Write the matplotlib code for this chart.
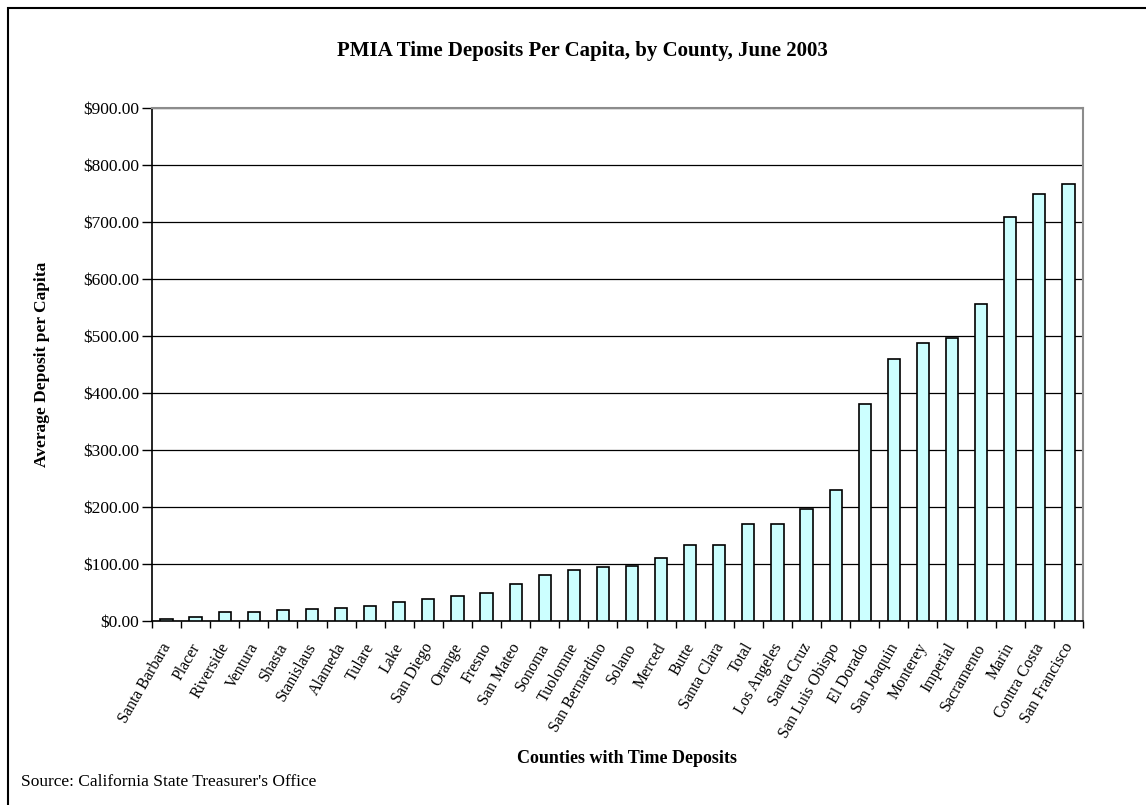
import numpy as np
import matplotlib
matplotlib.use("Agg")
import matplotlib.pyplot as plt
import matplotlib.transforms as mtransforms
from matplotlib.ticker import FuncFormatter, MultipleLocator, FixedLocator
from matplotlib.patches import Rectangle

counties = ["Santa Barbara", "Placer", "Riverside", "Ventura", "Shasta", "Stanislaus",
            "Alameda", "Tulare", "Lake", "San Diego", "Orange", "Fresno", "San Mateo",
            "Sonoma", "Tuolomne", "San Bernardino", "Solano", "Merced", "Butte",
            "Santa Clara", "Total", "Los Angeles", "Santa Cruz", "San Luis Obispo",
            "El Dorado", "San Joaquin", "Monterey", "Imperial", "Sacramento", "Marin",
            "Contra Costa", "San Francisco"]
deposits = [3, 7, 15, 16, 19, 21.5, 23.5, 27, 33, 39, 44, 48.5, 65,
            81, 89, 94, 97, 111, 133, 133, 170, 170, 197, 230,
            381, 459, 487, 497, 557, 708, 750, 767]

plt.rcParams["font.family"] = ["Liberation Serif", "DejaVu Serif"]

fig = plt.figure(figsize=(11.46, 8.05), dpi=100)
ax = fig.add_axes([0.1326, 0.2286, 0.8124, 0.6372])

x = np.arange(len(counties))
ax.bar(x, deposits, width=0.42, color="#ccffff", edgecolor="black", linewidth=1.2, zorder=3)

ax.set_xlim(-0.5, len(counties) - 0.5)
ax.set_ylim(0, 900)
ax.yaxis.set_major_locator(MultipleLocator(100))
ax.yaxis.set_major_formatter(FuncFormatter(lambda v, _: f"${v:,.2f}"))
ax.grid(axis="y", color="black", linewidth=0.9, zorder=0)

# category labels centred, tick marks between categories
ax.set_xticks(x)
ax.set_xticklabels(counties, rotation=60, ha="right", rotation_mode="anchor", fontsize=11.5)
ax.tick_params(axis="x", which="major", length=0, pad=6)
shift = mtransforms.ScaledTranslation(-0.06, -0.11, fig.dpi_scale_trans)
for lab in ax.get_xticklabels():
    lab.set_transform(lab.get_transform() + shift)
ax.xaxis.set_minor_locator(FixedLocator(np.arange(-0.5, len(counties), 1.0)))
ax.tick_params(axis="x", which="minor", length=5, width=1, direction="out")
ax.tick_params(axis="y", length=7, width=1, direction="out", pad=2, labelsize=12.5)

for side in ("top", "right"):
    ax.spines[side].set_color("#8c8c8c")
    ax.spines[side].set_linewidth(1.5)
for side in ("left", "bottom"):
    ax.spines[side].set_color("black")
    ax.spines[side].set_linewidth(1.2)

fig.text(0.508, 0.937, "PMIA Time Deposits Per Capita, by County, June 2003",
         ha="center", va="center", fontsize=15, fontweight="bold")
fig.text(0.037, 0.547, "Average Deposit per Capita", rotation=90,
         ha="center", va="center", fontsize=12.5, fontweight="bold")
fig.text(0.5475, 0.058, "Counties with Time Deposits",
         ha="center", va="center", fontsize=13, fontweight="bold")
fig.text(0.018, 0.028, "Source: California State Treasurer's Office",
         ha="left", va="center", fontsize=12.5)

# outer chart border
fig.add_artist(Rectangle((0.007, -0.01), 1.0, 1.0, transform=fig.transFigure,
                         fill=False, edgecolor="black", linewidth=1.5))

fig.savefig("out.png", dpi=100)
